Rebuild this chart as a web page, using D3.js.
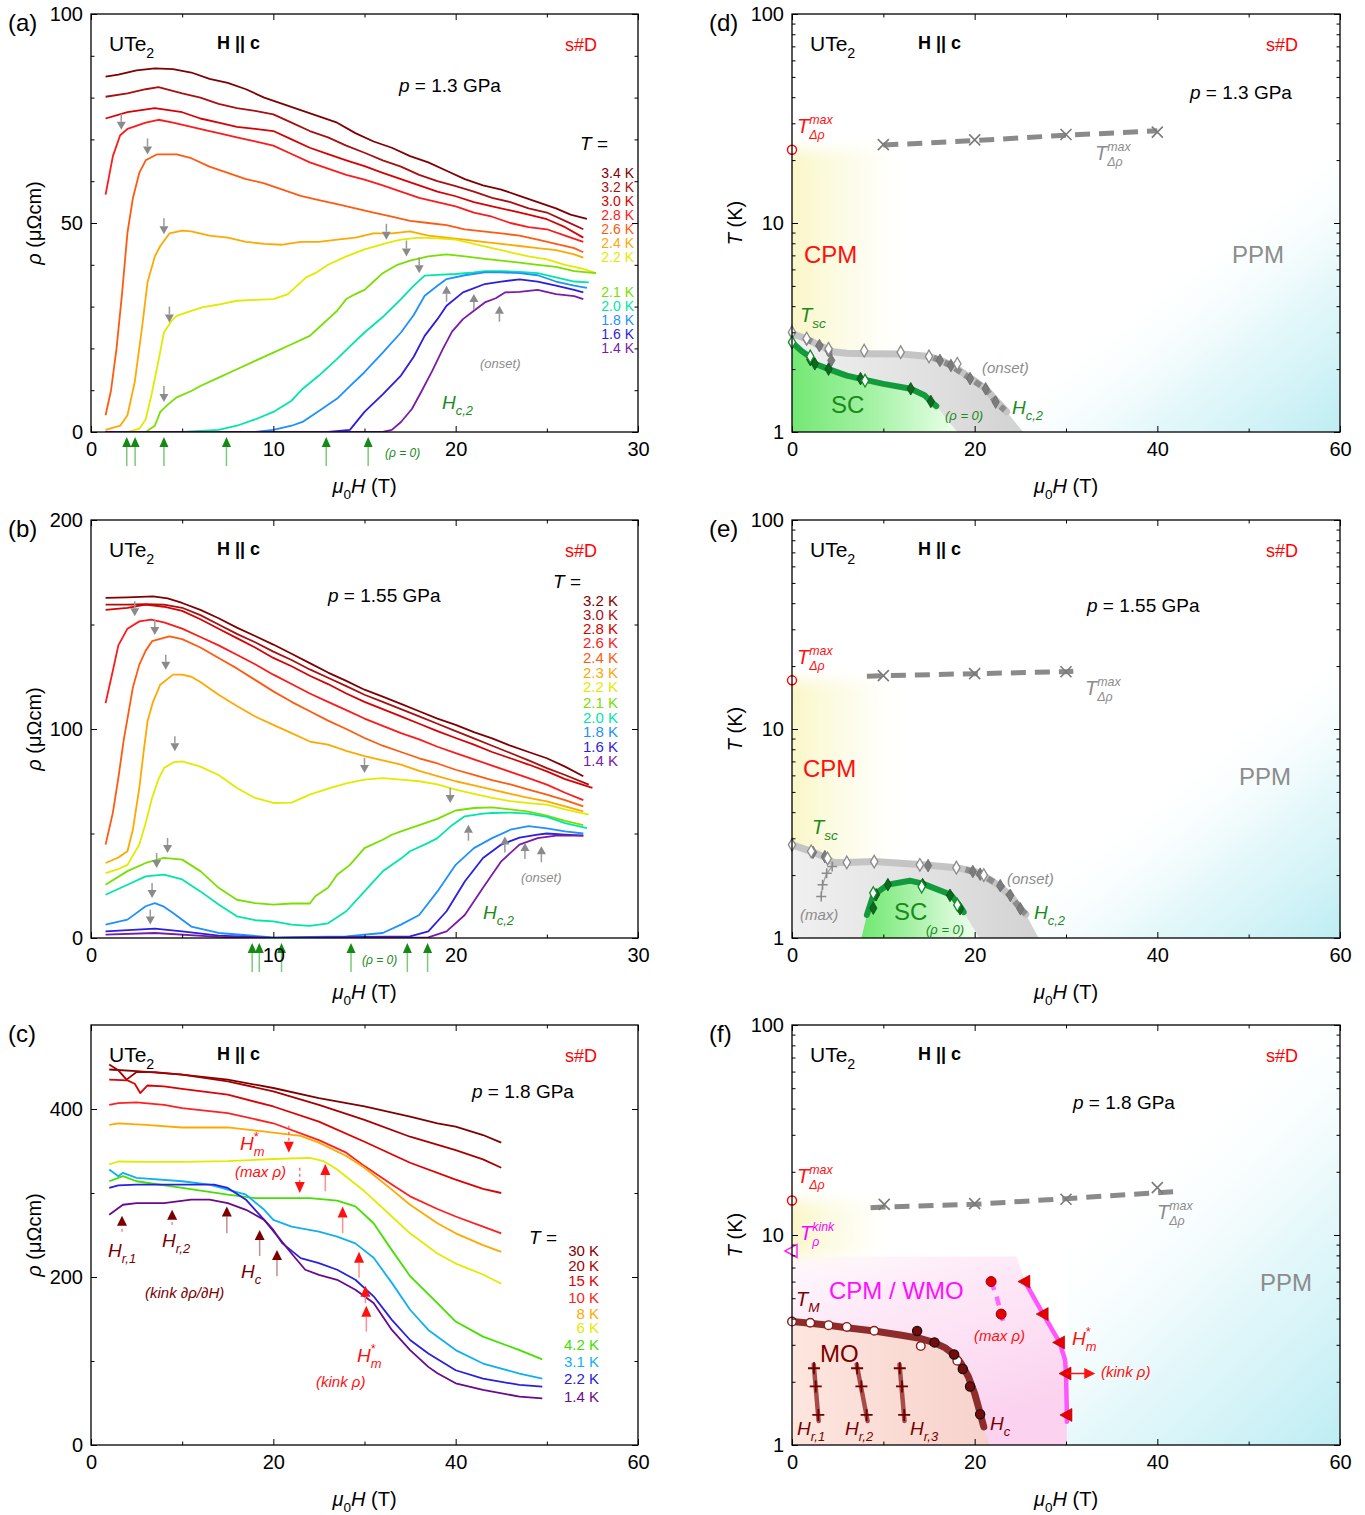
<!DOCTYPE html>
<html><head><meta charset="utf-8">
<script src="https://cdn.jsdelivr.net/npm/d3@7"></script>
<style>
body{margin:0;background:#fff;}
svg{font-family:"Liberation Sans",Arial,sans-serif;}
svg text{white-space:pre;}
.tk text{font-size:20px;font-family:"Liberation Sans",Arial,sans-serif;fill:#000;}
.tk line{stroke:#000;stroke-width:1;}
.tk path.domain{display:none;}
</style></head><body>
<svg id="fig" width="1365" height="1515"></svg>
<script>
// ================= DATA =================
// ---- panel (a): p = 1.3 GPa, rho (µΩcm) vs µ0H (T)
const aTemps = ["3.4 K","3.2 K","3.0 K","2.8 K","2.6 K","2.4 K","2.2 K","2.1 K","2.0 K","1.8 K","1.6 K","1.4 K"];
const a34 = [[0.8,85],[1.5,85.5],[2.5,86.5],[3.5,87],[4.5,86.8],[5.5,86],[6.5,84.5],[7.5,83.5],[8.5,82],[9.5,80],[10.5,78.5],[11.5,77],[12.5,75.5],[13.5,74],[14.5,71.5],[15.5,69.5],[16.5,68],[17.5,66],[18.5,64.5],[19.5,62.5],[20.5,60.5],[21.5,59],[22.5,58],[23.5,56.5],[24.5,55],[25.5,53.5],[26.3,52],[27.2,51]];
const a32 = [[0.8,80.2],[2,81],[3,82],[3.7,82.5],[5,81],[6,80],[7,78.5],[8,77.5],[9,76.8],[10,76],[11,74],[12,72],[13,70.5],[14,68.5],[15,66.8],[16,65],[17,63.5],[18,61.5],[19,60],[20,58.8],[21,57.5],[22,56],[23,55],[24,53.5],[25,52.5],[26,50.5],[27,48.5]];
const a30 = [[0.8,75],[2,76.5],[3.5,77.5],[5,76.5],[6,75],[7,74],[8,73],[9,72.5],[10,72],[11,70],[12,68],[13,66.5],[14,65],[15,63.6],[16,62],[17,60.5],[18,59],[19,57.5],[20,56.4],[21,55],[22,54],[23,53],[24,52],[25,50.9],[26,49],[27,46.5]];
const a28 = [[0.8,56.8],[1.2,66],[1.6,71],[2,72.5],[3,74],[3.7,74.7],[4.5,74],[5.5,73],[6.5,72],[7,71.5],[8,70.5],[9,69.5],[10,68.5],[11,66.5],[12,64.5],[13,63],[14,61.5],[15,60.4],[16,59],[17,57.5],[18,56],[19,55],[20,54],[21,52.5],[22,51.5],[23,50],[24,49],[25,48.5],[26,47],[27,45.5]];
const a26 = [[0.8,4],[1.1,10],[1.4,20],[1.7,33],[2,47.7],[2.3,56],[2.65,62],[3,65],[3.6,66.4],[4.7,66.4],[5.5,65.5],[6.5,63.5],[7.5,62],[8.5,60.5],[9.5,59.5],[10.5,58],[11.5,56.5],[12.5,55.5],[13.5,54.5],[14.5,53.5],[15.5,52.5],[16.5,51.5],[17.5,50.5],[18.5,50],[19.5,49.5],[20.5,48.5],[21.5,48],[22.5,47.5],[23.5,47],[24.5,46],[25.5,45],[26.5,44],[27,43]];
const a24 = [[0.8,0.5],[1.6,1.5],[2,4],[2.4,12],[2.8,25],[3.1,35.8],[3.5,42],[3.8,44.5],[4.3,47.5],[5,48.2],[5.5,48],[6.5,47],[7.5,46.5],[8.5,45.5],[9.5,45],[10.5,44.8],[11.5,45.5],[12.5,45.5],[13.5,46],[14.5,46.5],[15.5,47.5],[16.5,47.5],[17.5,48],[18.5,47],[19.5,46.5],[20.5,46],[21.5,45.5],[22.5,45],[23.5,44.5],[24.5,44],[25.5,43.5],[26.5,42.5],[27,41.7]];
const a22 = [[0.8,0],[2,0],[2.65,0.8],[3,3],[3.35,9.5],[3.7,17],[4,23.8],[4.4,26.5],[4.7,27.8],[5.5,29],[6.1,29.8],[7,30.5],[8,31.4],[9,31.6],[10,31.8],[10.8,33],[11.2,34.6],[11.8,37],[12.3,38],[13,40],[14,42],[15,43.7],[16.3,45.3],[17,46],[18,46.5],[19,46.3],[20,46],[21,45],[22,44],[23,43],[24,42],[25,41.3],[26,40],[27,39],[27.7,38]];
const a21 = [[0.8,0],[3,0],[3.5,1.5],[3.8,4.8],[4.2,6.5],[4.7,8.3],[5.5,9.8],[6,11],[7,13],[8,15],[9,17],[10,19],[11,21],[12,23],[12.5,25],[13,27],[13.5,29],[14,31.8],[14.5,33],[15,34],[15.5,36],[16,38],[16.8,40],[17.5,41],[18.5,42],[19.5,42.5],[20.5,42],[21.5,41.5],[22.5,41],[23.5,40.5],[24.5,40],[25.5,39.5],[26.5,38.5],[27.7,38]];
const a20 = [[0.8,0],[5,0],[7,0.5],[8,1.5],[9,3],[10,4.8],[11,7.5],[11.6,10.3],[12.5,13.5],[13.5,17.5],[14.2,20.5],[15,23.8],[16,27.5],[17,31.8],[17.7,35],[18.3,37.4],[19,37.6],[20,37.8],[21,38.2],[21.6,38.5],[22.5,38.5],[23.5,38.3],[24.5,38],[25.5,37],[26.5,36],[27.3,35.8]];
const a18 = [[0.8,0],[9,0],[10,0.5],[11,1.5],[11.6,2.4],[12.5,5],[13.5,8],[14.2,11],[15,14.3],[16,19],[17,23.8],[17.7,28],[18.3,32.6],[19,35],[19.5,36.6],[20.5,37.5],[21.6,38.2],[22.5,38.2],[23.5,38],[24.5,37.5],[25.5,36],[26.5,35],[27.2,34.5]];
const a16 = [[0.8,0],[13,0],[14.2,0.5],[15,4.8],[16,9],[17,13.5],[17.7,18],[18.3,23],[19,27],[19.5,30.2],[20.4,33.4],[21.6,35.4],[22.5,36],[23.5,36.5],[24.5,36],[25.5,35],[26.5,34],[27,33.4]];
const a14 = [[0.8,0],[16,0],[16.5,0.5],[17,2.4],[17.6,5.5],[18.1,9.5],[18.7,14.5],[19.3,19.9],[19.8,24],[20.4,27],[21,29],[21.6,31],[22.2,32],[22.7,33.4],[23.5,33.5],[24.5,34],[25.5,33],[26.5,32.5],[27,31.8]];
const aDownArrows = [[1.66,72.3],[3.1,66.4],[4.0,47.3],[4.3,26.2],[4.0,7.2],[16.2,46],[17.3,42],[18.0,38]];
const aUpArrows = [[19.5,35],[21.0,33],[22.4,30.2]];
const aRho0 = [1.96,2.42,4.0,7.43,12.9,15.2];

// ---- panel (b): p = 1.55 GPa
const bTemps = ["3.2 K","3.0 K","2.8 K","2.6 K","2.4 K","2.3 K","2.2 K","2.1 K","2.0 K","1.8 K","1.6 K","1.4 K"];
const b32 = [[0.8,162.7],[2,163],[3.4,163.5],[4.2,162.5],[5,160.3],[6,157],[7,153],[8,148.5],[9,144.5],[10,140.4],[11,136],[12,131.5],[13,127],[14,123],[15,118.8],[16,115.5],[17,112],[18,108.5],[19,105],[20,102],[21,98.5],[22,95.5],[23,92],[24,89],[25,86],[26,82],[27,77.4]];
const b30 = [[0.8,159.5],[2,159.5],[3,159.7],[4,159.5],[5,158],[6,154.5],[7,150],[8,145.5],[9,141.5],[10,137],[11,133],[12,128.5],[13,124.5],[14,120.5],[15,116.4],[16,113],[17,109.5],[18,106],[19,102.5],[20,99],[21,95.5],[22,92],[23,88.5],[24,85],[25,81.3],[26,78],[27.3,73.4]];
const b28 = [[0.8,157],[2,158],[3,159.5],[4,158.5],[5,156.5],[6,152.5],[7,148],[8,143.5],[9,139],[10,134],[11,130],[12,125.5],[13,121.5],[14,117],[15,113],[16,109.5],[17,106],[18,102.5],[19,99],[20,95.7],[21,92.5],[22,89],[23,86],[24,83],[25,79.7],[26,76],[27.5,71.8]];
const b26 = [[0.8,112.4],[1.2,128],[1.5,140],[2,148],[2.65,151.5],[3.3,152.3],[4,151],[5,148],[6,144],[7,140],[8,135.5],[9,131],[10,126],[11,121.5],[12,117],[13,113],[14,109],[15,105],[16,101.5],[17,98],[18,95],[19,91.5],[20,88.5],[21,85.5],[22,82.5],[23,79.5],[24,76.5],[25,73.4],[26,69.5],[27,66]];
const b24 = [[0.8,44.7],[1.2,60],[1.5,76.6],[1.8,95],[2,105],[2.3,120],[2.65,130.8],[3,137.5],[3.35,142],[4.3,144.3],[5,143],[6,139],[7,134],[8,129],[9,123.5],[10,118],[11,113],[12,108.5],[13,104],[14,100],[15,95.7],[16,92],[17,89],[18,86],[19,83.5],[20,80.5],[21,78],[22,75.5],[23,73.5],[24,71],[25,68.6],[26,66],[27,63]];
const b23 = [[0.8,35.9],[1.5,38.5],[2,41.5],[2.3,52],[2.65,71.8],[2.9,90],[3.1,103.7],[3.4,113],[3.8,121.2],[4.5,126],[5,126],[5.5,125],[6,122.5],[7,116.4],[8,111],[9,106],[10,102],[11,98],[12,94],[13,92.5],[14,89.5],[15,87],[16,85],[17,83],[18,80],[19,77.5],[20,75],[21,73],[22,71],[23,69],[24,67],[25,65.4],[26,63],[27,60.6]];
const b22 = [[0.8,31],[1.5,33],[2,35],[2.65,44.7],[3,55],[3.35,67],[3.7,76],[4,81.3],[4.5,84],[5,84.5],[6,82],[7,78],[8,71.8],[9,67],[10,64.6],[11,64.8],[12,68.6],[13,71.5],[14,74],[15,75.8],[16,76.5],[17,75.8],[18,75],[19,73.5],[20,71],[21,69],[22,67],[23,65.5],[24,64.5],[25,63.8],[26,61.5],[27.3,59]];
const b21 = [[0.8,25.5],[2,32],[3,35.9],[4,38.3],[5,37.5],[6,32],[7,24],[8,18.3],[9,16.7],[10,16],[11,16.5],[12,16.5],[12.3,20],[13,24],[13.5,30.3],[14.2,35],[15,43],[16,47],[16.5,49.4],[17,51],[18,54],[19,57],[19.5,59],[20,61],[21,62.2],[22,62.5],[23,61.5],[24,60.5],[25,58.5],[26,56],[27,54]];
const b20 = [[0.8,20.7],[2,25.5],[3,29.5],[4,30.3],[5,28],[6,22.3],[7,16],[8,10.4],[9,8.5],[10,8],[11,6.4],[12,5.8],[13,7],[14,12.8],[15,22.3],[16,31.9],[17,38],[17.5,41.5],[18.5,45.5],[19,47.8],[19.8,54],[20.5,58.2],[21.5,59.5],[22,59.8],[23,60],[24,59.5],[25,58],[26,55],[27.2,52.6]];
const b18 = [[0.8,6.4],[2,8.8],[3,15.2],[3.5,16.7],[4,15],[4.5,12],[5.5,5.5],[7,2.4],[10,0.3],[14,0.8],[16,2.4],[17,6.4],[18,11],[19,22.3],[20,35],[21,43],[22,47.8],[23,51.8],[24,53.5],[25,52.5],[26,51],[27,50]];
const b16 = [[0.8,3.2],[3.5,4.5],[5,3.2],[7,1.1],[10,0],[17.5,0.8],[18.5,3.2],[19.5,12.8],[20.5,27],[21.5,38.3],[22.5,44.7],[23.5,48],[24.5,49.5],[25,50],[26,49.5],[27,49]];
const b14 = [[0.8,1.6],[3.5,2.4],[7,0.5],[10,0],[18.5,0.3],[19.5,3.2],[20.5,11],[21.5,24],[22.5,36.7],[23.5,44.7],[24.5,47.8],[25.5,49],[27,49]];
const bDownArrows = [[2.4,154],[3.5,145],[4.1,128.4],[4.6,89.3],[15.0,79],[19.7,64.6],[4.2,40.7],[3.6,33.5],[3.35,19.1],[3.25,6.4]];
const bUpArrows = [[20.7,54.2],[22.7,48.6],[23.8,45.5],[24.7,43.9]];
const bRho0 = [8.84,9.23,10.45,14.26,17.35,18.46];

// ---- panel (c): p = 1.8 GPa
const cTemps = ["30 K","20 K","15 K","10 K","8 K","6 K","4.2 K","3.1 K","2.2 K","1.4 K"];
const c300 = [[2,447],[5,445],[10,441],[15,435],[20,425],[25,413],[30,403],[35,391],[38,383],[40,379],[43,369],[45,360]];
const c200 = [[2,453],[3,446],[3.9,435],[5,444],[7,444],[10,441],[15,433],[20,421],[25,405],[30,387],[35,367],[40,351],[43,340],[45,330]];
const c150 = [[2,435],[4,434],[4.8,430],[5.4,419],[6.2,428],[8,427],[10,424],[15,417],[20,403],[25,385],[30,361],[35,336],[40,316],[43,305],[45,300]];
const c100 = [[2,405],[3,407],[5,408],[8,405],[10,401],[15,395],[20,383],[25,363],[28,348],[30,332],[33,310],[35,296],[38,281],[40,272],[43,260],[45,252]];
const c80 = [[2,381],[3,383],[6,381],[10,378],[15,378],[20,372],[23,368],[25,360],[28,344],[30,330],[33,304],[35,286],[38,264],[40,252],[43,238],[45,230]];
const c60 = [[2,334],[3,337.5],[6,337],[10,337],[15,338],[20,340.5],[24,341.7],[25.5,338],[27,328],[30,302],[33,272],[35,252],[38,228],[40,216],[43,203],[45,192]];
const c42 = [[2,314],[3.5,320],[5,314],[10,306],[15,298],[18,294],[24,294],[27,291],[29,284],[31,264],[33,232],[35,201],[38,169],[40,147],[43,129],[47,113],[49.5,102]];
const c31 = [[2,328],[3,320],[3.5,324],[5,318],[10,314],[13,310],[15,304],[17,298],[19,280],[20,268],[22,260],[25,254],[27,248],[29,240],[31,223],[33,193],[35,161],[37,137],[40,113],[43,97],[47,85],[49.5,79]];
const c22 = [[2,306],[3,309],[5,310],[10,310],[13.5,310],[15,306],[17,292],[19,268],[20,256],[21,240],[23,222.5],[25,216.5],[27,208.6],[29,196.7],[31,177],[33,149],[35,125],[37,109],[40,89],[43,79],[47,71.5],[49.5,69.5]];
const c14 = [[2,274],[3.5,286],[5,288],[8,288],[11,292],[13,292],[15,288],[17,280],[19,268],[20.5,248],[22,228],[23.5,208.6],[25,202.6],[27,196.7],[29,184.8],[31,169],[33,137],[35,113],[37,93],[38,85.4],[40,73.5],[43,65.5],[47,57.6],[49.5,55.6]];
const cMaxArrows = [[21.7,348,380],[22.9,300,330]];      // [H, tip, tail]
const cKinkArrows = [[25.7,334.5,302],[27.6,284,252],[29.4,230,199],[30.1,189.5,169],[30.2,165.7,135]];
const cHrArrows = [[3.4,273,254],[8.9,280,262]];
const cHcArrows = [[14.9,284,252],[18.5,256,225],[20.4,232,201]];

// ---- panel (d): phase diagram p = 1.3 GPa
const dTmaxLine = [[10,23.6],[20,24.8],[30,26.3],[40,27.6]];
const dTmaxX = [[10,23.7],[20,25],[30,26.5],[40,27.2]];
const dTmaxZero = [[0,22.4]];
const dOnsetLine = [[0,2.95],[1.5,2.8],[3,2.6],[4.5,2.42],[6,2.38],[8,2.37],[12,2.36],[15,2.3],[16.5,2.18],[17.5,2.08],[19.5,1.82],[21.2,1.61],[22.3,1.42],[23.5,1.25]];
const dOnsetDashA = [[1.5,2.8],[3,2.59],[4,2.47],[4.3,2.2]];
const dOnsetDashB = [[15.5,2.27],[17.4,2.08],[19.5,1.8],[21.2,1.61],[22.3,1.39],[23.3,1.27]];
const dOnsetOpen = [[0,3.0],[1.6,2.8],[4,2.5],[7.9,2.45],[11.9,2.41],[15,2.3],[18.1,2.12]];
const dOnsetFilled = [[1.6,2.78],[3,2.59],[4,2.45],[4.3,2.2],[16.2,2.2],[17.4,2.08],[19.5,1.8],[21.2,1.61],[22.3,1.39]];
const dOnsetRegion = [[0,1],[0,2.95],[1.5,2.8],[3,2.6],[4.5,2.42],[6,2.38],[8,2.37],[12,2.36],[15,2.3],[16.5,2.18],[17.5,2.08],[19.5,1.82],[21.2,1.61],[22.3,1.42],[23.5,1.25],[25.3,1]];
const dRho0Line = [[0,2.69],[1,2.45],[2,2.28],[2.5,2.12],[4,2.0],[6,1.86],[7.9,1.78],[10,1.7],[13,1.61],[14.5,1.5],[15.2,1.4],[15.8,1.33]];
const dRho0Filled = [[2,2.22],[2.5,2.12],[4,2.0],[7.5,1.8],[13,1.61],[15.2,1.4]];
const dRho0Open = [[0,2.69],[2,2.3],[8,1.76]];
const dSCRegion = [[0,1],[0,2.69],[1,2.45],[2,2.28],[2.5,2.12],[4,2.0],[6,1.86],[7.9,1.78],[10,1.7],[13,1.61],[14.5,1.5],[15.2,1.4],[15.8,1.33],[18.1,1]];

// ---- panel (e): phase diagram p = 1.55 GPa
const eTmaxLine = [[8.2,17.9],[10,18],[20,18.4],[30,18.8],[30.8,18.9]];
const eTmaxX = [[10,18],[20,18.4],[30,18.8]];
const eTmaxZero = [[0,17.1]];
const eOnsetLine = [[0,2.79],[2.2,2.59],[3.8,2.41],[4.5,2.3],[6,2.3],[9,2.32],[14,2.25],[18,2.17],[20,2.08],[21,1.99],[22.5,1.8],[24,1.58],[25,1.38],[25.6,1.3]];
const eOnsetDash = [[19,2.13],[20.6,2.02],[22.8,1.78],[23.9,1.6],[25,1.38],[25.6,1.3]];
const eOnsetOpen = [[0,2.79],[2.1,2.6],[3.9,2.4],[6,2.3],[9,2.32],[14,2.24],[18,2.17],[21,2.0]];
const eOnsetFilled = [[2.3,2.57],[3.6,2.45],[14.9,2.22],[19.8,2.08],[20.6,2.02],[22.8,1.78],[23.9,1.6],[25,1.38]];
const eOnsetRegion = [[0,1],[0,2.79],[2.2,2.59],[3.8,2.41],[4.5,2.3],[6,2.3],[9,2.32],[14,2.25],[18,2.17],[20,2.08],[21,1.99],[22.5,1.8],[24,1.58],[25,1.38],[25.6,1.3],[27,1]];
const eMax = [[4.4,2.2],[3.8,2.04],[3.35,1.8],[3.2,1.58]];
const eMaxLine = [[4.5,2.3],[4.4,2.2],[3.8,2.04],[3.35,1.8],[3.2,1.58]];
const eSCLine = [[8.2,1.29],[8.9,1.6],[10.5,1.8],[12.9,1.88],[14.3,1.82],[17.4,1.61],[18.3,1.44],[18.8,1.33]];
const eSCFilled = [[8.9,1.39],[9.2,1.61],[10.5,1.8],[14.3,1.8],[17.3,1.6],[18.4,1.38]];
const eSCOpen = [[8.9,1.64],[14.2,1.76],[18.1,1.44]];
const eSCRegion = [[7.6,1],[8.2,1.29],[8.9,1.6],[10.5,1.8],[12.9,1.88],[14.3,1.82],[17.4,1.61],[18.3,1.44],[18.8,1.33],[20.5,1]];

// ---- panel (f): phase diagram p = 1.8 GPa
const fTmaxLine = [[8.6,13.5],[10,13.6],[20,14],[30,14.9],[41.9,16.1]];
const fTmaxX = [[10.1,14],[20,14.1],[30,14.8],[40,16.8]];
const fTmaxZero = [[0,14.6]];
const fTkinkZero = [[0,8.4]];
const fMOLine = [[0,3.87],[2,3.8],[4,3.72],[6,3.62],[9,3.49],[12,3.33],[14,3.22],[15.5,3.08],[16.8,2.9],[17.8,2.68],[18.5,2.45],[19.3,2.12],[20,1.76],[20.5,1.47],[21,1.22]];
const fMOOpen = [[0,3.87],[2,3.82],[4,3.72],[6,3.65],[9,3.5],[14.1,2.96],[18.1,2.52]];
const fMOFilled = [[13.7,3.49],[15.6,3.08],[17.75,2.7],[18.7,2.3],[19.5,1.9],[20.6,1.4]];
const fMORegion = [[0,1],[0,3.87],[2,3.8],[4,3.72],[6,3.62],[9,3.49],[12,3.33],[14,3.22],[15.5,3.08],[16.8,2.9],[17.8,2.68],[18.5,2.45],[19.3,2.12],[20,1.76],[20.5,1.47],[21,1.22],[21.6,1]];
const fHr1 = [[2.41,2.32],[2.6,1.9],[2.88,1.39]];
const fHr2 = [[7.13,2.32],[7.6,1.9],[8.17,1.39]];
const fHr3 = [[11.8,2.32],[12.04,1.9],[12.28,1.39]];
const fHr1Line = [[2.38,2.42],[2.92,1.3]];
const fHr2Line = [[7.08,2.42],[8.28,1.3]];
const fHr3Line = [[11.77,2.42],[12.32,1.3]];
const fHmLine = [[25.5,6.0],[27.5,4.2],[29.3,3.08],[29.9,2.54],[30.0,2.19],[30.1,1.39],[30.1,1.29]];
const fHmTri = [[25.5,6.0],[27.5,4.2],[29.3,3.08],[30.0,2.19],[30.1,1.39]];
const fHmKink = [[30.0,33.2,2.19]];
const fMaxLine = [[21.8,6.0],[22.4,5.1],[22.9,4.2],[23.1,3.9]];
const fMaxDots = [[21.8,6.0],[22.9,4.2]];
const fWMORegion = [[0,1],[0,7.9],[24.6,7.9],[25.5,6.0],[27.5,4.2],[29.3,3.08],[29.9,2.54],[30.0,2.19],[30.1,1.39],[30.1,1]];

// ================= DRAWING =================
const svg = d3.select("#fig");
const defs = svg.append("defs");
const FONT = '"Liberation Sans",Arial,sans-serif';
defs.append("filter").attr("id", "soft").attr("x", "-20%").attr("y", "-20%").attr("width", "140%").attr("height", "140%")
  .append("feGaussianBlur").attr("stdDeviation", 7);

function grad(id, x1, y1, x2, y2, stops, user){
  const g = defs.append("linearGradient").attr("id", id)
    .attr("x1", x1).attr("y1", y1).attr("x2", x2).attr("y2", y2);
  if (user) g.attr("gradientUnits", "userSpaceOnUse");
  stops.forEach(s => g.append("stop").attr("offset", s[0]).attr("stop-color", s[1]).attr("stop-opacity", s[2] == null ? 1 : s[2]));
}

function rich(g, x, y, parts, o){
  const size = o.size || 18;
  const grp = g.append("g").attr("fill", o.color || "#000");
  let cx = 0, pend = 0;
  parts.forEach(p => {
    const t = p[0], f = p[1] || "";
    let fs = size, dy = 0;
    if (f.includes("_")) { fs = size * (o.subScale || 0.68); dy = size * 0.32; }
    if (f.includes("^")) { fs = size * (o.subScale || 0.68); dy = -size * 0.45; }
    const el = grp.append("text").attr("x", cx).attr("y", dy).attr("font-size", fs).attr("font-family", FONT).text(t);
    if (f.includes("i")) el.attr("font-style", "italic");
    if (f.includes("b")) el.attr("font-weight", "bold");
    const w = el.node().getComputedTextLength();
    if (f.includes("s")) pend = Math.max(pend, w);
    else { cx += Math.max(w, pend); pend = 0; }
  });
  cx += pend;
  let dx = 0;
  if (o.anchor === "middle") dx = -cx / 2;
  if (o.anchor === "end") dx = -cx;
  grp.attr("transform", `translate(${x + dx},${y})`);
  return grp;
}

function makePanel(box, xd, yd, ylog, ticks){
  const g = svg.append("g");
  const x = d3.scaleLinear().domain(xd).range([box.l, box.r]);
  const y = (ylog ? d3.scaleLog() : d3.scaleLinear()).domain(yd).range([box.b, box.t]);
  const id = "clip" + Math.round(box.l) + "_" + Math.round(box.t);
  defs.append("clipPath").attr("id", id).append("rect")
    .attr("x", box.l).attr("y", box.t).attr("width", box.r - box.l).attr("height", box.b - box.t);
  const plot = g.append("g").attr("clip-path", `url(#${id})`);
  const over = g.append("g");
  const fmt = d3.format("d");
  const ax = g.append("g").attr("class", "tk");
  ax.append("g").attr("transform", `translate(0,${box.b})`).call(d3.axisBottom(x).tickValues(ticks.xM).tickSize(-6).tickSizeOuter(0).tickPadding(10).tickFormat(fmt));
  ax.append("g").attr("transform", `translate(0,${box.b})`).call(d3.axisBottom(x).tickValues(ticks.xm).tickSize(-3.5).tickSizeOuter(0).tickFormat(""));
  ax.append("g").attr("transform", `translate(0,${box.t})`).call(d3.axisTop(x).tickValues(ticks.xM).tickSize(-6).tickSizeOuter(0).tickFormat(""));
  ax.append("g").attr("transform", `translate(0,${box.t})`).call(d3.axisTop(x).tickValues(ticks.xm).tickSize(-3.5).tickSizeOuter(0).tickFormat(""));
  ax.append("g").attr("transform", `translate(${box.l},0)`).call(d3.axisLeft(y).tickValues(ticks.yM).tickSize(-6).tickSizeOuter(0).tickPadding(8).tickFormat(fmt));
  ax.append("g").attr("transform", `translate(${box.l},0)`).call(d3.axisLeft(y).tickValues(ticks.ym).tickSize(-3.5).tickSizeOuter(0).tickFormat(""));
  ax.append("g").attr("transform", `translate(${box.r},0)`).call(d3.axisRight(y).tickValues(ticks.yM).tickSize(-6).tickSizeOuter(0).tickFormat(""));
  ax.append("g").attr("transform", `translate(${box.r},0)`).call(d3.axisRight(y).tickValues(ticks.ym).tickSize(-3.5).tickSizeOuter(0).tickFormat(""));
  ax.selectAll("g").attr("font-size", null).attr("font-family", null);
  ax.append("rect").attr("x", box.l).attr("y", box.t).attr("width", box.r - box.l).attr("height", box.b - box.t)
    .attr("fill", "none").attr("stroke", "#000").attr("stroke-width", 1.3);
  return {g, plot, over, ax, x, y, box};
}

function header(p, letter, press, px, py){
  const b = p.box;
  rich(p.over, b.l - 83, b.t + 17, [["(" + letter + ")"]], {size: 24});
  rich(p.over, b.l + 18, b.t + 37, [["UTe"], ["2", "_"]], {size: 21});
  rich(p.over, b.l + 126, b.t + 35, [["H || c", "b"]], {size: 18});
  rich(p.over, b.l + 474, b.t + 37, [["s#D"]], {size: 18, color: "#ff0000"});
  rich(p.over, px, py, [["p", "i"], [" = " + press + " GPa"]], {size: 19});
}
function xTitle(p){
  const b = p.box;
  rich(p.over, (b.l + b.r) / 2, b.b + 61, [["μ", "i"], ["0", "_"], ["H", "i"], [" (T)"]], {size: 20, anchor: "middle"});
}
function yTitleRho(p){
  const b = p.box;
  const gg = p.over.append("g").attr("transform", `translate(${b.l - 50},${(b.t + b.b) / 2}) rotate(-90)`);
  rich(gg, 0, 0, [["ρ", "i"], [" (μΩcm)"]], {size: 20, anchor: "middle"});
}
function yTitleT(p){
  const b = p.box;
  const gg = p.over.append("g").attr("transform", `translate(${b.l - 50},${(b.t + b.b) / 2}) rotate(-90)`);
  rich(gg, 0, 0, [["T", "i"], [" (K)"]], {size: 20, anchor: "middle"});
}

function lineGen(p, curve){ return d3.line().x(d => p.x(d[0])).y(d => p.y(d[1])).curve(curve || d3.curveLinear); }

function drawCurves(p, curves, colors){
  const lg = lineGen(p);
  p.plot.selectAll(null).data(curves).join("path")
    .attr("d", lg).attr("fill", "none").attr("stroke", (d, i) => colors[i])
    .attr("stroke-width", 1.8).attr("stroke-linejoin", "round");
}
function legend(p, temps, colors, xr, ys, tx, ty, fs){
  rich(p.over, tx, ty, [["T", "i"], [" ="]], {size: 19});
  temps.forEach((t, i) => rich(p.over, xr, ys[i], [[t]], {size: fs || 15, color: colors[i], anchor: "end"}));
}

// vertical arrow: tip at (xpx, ytip), tail at ytail (px)
function vArrow(g, xpx, ytip, ytail, head, shaft, o){
  o = o || {};
  const dir = ytail > ytip ? 1 : -1;
  const hl = o.hl || 9, hw = o.hw || 4.5;
  const baseY = ytip + dir * hl;
  g.append("line").attr("x1", xpx).attr("x2", xpx).attr("y1", ytail).attr("y2", baseY)
    .attr("stroke", shaft).attr("stroke-width", o.sw || 1.5).attr("stroke-dasharray", o.dash || null);
  g.append("path").attr("d", `M${xpx},${ytip}L${xpx - hw},${baseY}L${xpx + hw},${baseY}Z`).attr("fill", head);
}

const diamond = d3.symbol().type(d3.symbolDiamond).size(46);
function markers(p, data, path, fill, stroke, sw){
  p.over.selectAll(null).data(data).join("path")
    .attr("transform", d => `translate(${p.x(d[0])},${p.y(d[1])})`)
    .attr("d", path).attr("fill", fill).attr("stroke", stroke).attr("stroke-width", sw || 1.2);
}
function circles(p, data, r, fill, stroke, sw, layer){
  (layer || p.over).selectAll(null).data(data).join("circle")
    .attr("cx", d => p.x(d[0])).attr("cy", d => p.y(d[1])).attr("r", r)
    .attr("fill", fill).attr("stroke", stroke).attr("stroke-width", sw || 1.3);
}
function pathLine(layer, p, data, stroke, sw, dash, cap){
  layer.append("path").attr("d", lineGen(p)(data)).attr("fill", "none").attr("stroke", stroke)
    .attr("stroke-width", sw).attr("stroke-dasharray", dash || null).attr("stroke-linecap", cap || "butt").attr("stroke-linejoin", "round");
}
function area(layer, p, data, fill){
  return layer.append("path").attr("d", lineGen(p)(data) + "Z").attr("fill", fill);
}

// ---------------- geometry ----------------
const LB = {l: 91, r: 638}, RB = {l: 792, r: 1340};
const rows = [{t: 14, b: 432}, {t: 520, b: 938}, {t: 1025, b: 1445}];
const box = (c, r) => ({l: c.l, r: c.r, t: r.t, b: r.b});

const tA = {xM: [0, 10, 20, 30], xm: [5, 15, 25], yM: [0, 50, 100], ym: [10, 20, 30, 40, 60, 70, 80, 90]};
const tB = {xM: [0, 10, 20, 30], xm: [5, 15, 25], yM: [0, 100, 200], ym: [50, 150]};
const tC = {xM: [0, 20, 40, 60], xm: [10, 30, 50], yM: [0, 200, 400], ym: [100, 300]};
const logMinor = [2,3,4,5,6,7,8,9,20,30,40,50,60,70,80,90];
const tP = {xM: [0, 20, 40, 60], xm: [10, 30, 50], yM: [1, 10, 100], ym: logMinor};

// ---------------- (a) ----------------
const aColors = ["#7f0000","#a81010","#d80000","#ff1a1a","#ff5a10","#ffa800","#e2ea00","#78e000","#00e6a8","#1e90ff","#2c1ee0","#7a1aa8"];
const pa = makePanel(box(LB, rows[0]), [0, 30], [0, 100], false, tA);
drawCurves(pa, [a34, a32, a30, a28, a26, a24, a22, a21, a20, a18, a16, a14], aColors);
aDownArrows.forEach(d => vArrow(pa.over, pa.x(d[0]), pa.y(d[1]), pa.y(d[1]) - 16, "#8a8a8a", "#9a9a9a", {hl: 8, hw: 4.5}));
aUpArrows.forEach(d => vArrow(pa.over, pa.x(d[0]), pa.y(d[1]), pa.y(d[1]) + 16, "#8a8a8a", "#9a9a9a", {hl: 8, hw: 4.5}));
aRho0.forEach(h => vArrow(pa.over, pa.x(h), 437, 466, "#138a13", "#7cc87c", {hl: 10, hw: 4.5}));
header(pa, "a", "1.3", 399, 92);
xTitle(pa); yTitleRho(pa);
legend(pa, aTemps, aColors, 634, [177.5,191.5,205.5,219.5,233.5,247.5,261.5,296.5,310.5,324.5,338.5,352.5], 580, 150, 14);
rich(pa.over, 480, 368, [["(onset)", "i"]], {size: 13, color: "#8c8c8c"});
rich(pa.over, 442, 409, [["H", "i"], ["c,2", "_i"]], {size: 19, color: "#1a8a1a"});
rich(pa.over, 385, 457, [["(", "i"], ["ρ", "i"], [" = 0)", "i"]], {size: 12, color: "#1a8a1a"});

// ---------------- (b) ----------------
const bColors = ["#7f0000","#a81010","#d80000","#ff1a1a","#ff5a10","#ffa800","#e2ea00","#78e000","#00e6a8","#1e90ff","#2c1ee0","#7a1aa8"];
const pb = makePanel(box(LB, rows[1]), [0, 30], [0, 200], false, tB);
drawCurves(pb, [b32, b30, b28, b26, b24, b23, b22, b21, b20, b18, b16, b14], bColors);
bDownArrows.forEach(d => vArrow(pb.over, pb.x(d[0]), pb.y(d[1]), pb.y(d[1]) - 15, "#8a8a8a", "#9a9a9a", {hl: 8, hw: 4.5}));
bUpArrows.forEach(d => vArrow(pb.over, pb.x(d[0]), pb.y(d[1]), pb.y(d[1]) + 16, "#8a8a8a", "#9a9a9a", {hl: 8, hw: 4.5}));
bRho0.forEach(h => vArrow(pb.over, pb.x(h), 943, 972, "#138a13", "#7cc87c", {hl: 10, hw: 4.5}));
header(pb, "b", "1.55", 328, 602);
xTitle(pb); yTitleRho(pb);
legend(pb, bTemps, bColors, 618, [605.7,620,634,648.4,663.4,678,692.4,708.4,723,737.4,751.7,766.4], 553, 588);
rich(pb.over, 521, 882, [["(onset)", "i"]], {size: 13, color: "#8c8c8c"});
rich(pb.over, 483, 919, [["H", "i"], ["c,2", "_i"]], {size: 19, color: "#1a8a1a"});
rich(pb.over, 362, 964, [["(", "i"], ["ρ", "i"], [" = 0)", "i"]], {size: 12, color: "#1a8a1a"});

// ---------------- (c) ----------------
const cColors = ["#7f0000","#a80000","#e00000","#ff2020","#ffa800","#e2ea00","#44e000","#10b0f0","#2820e0","#6a0a8a"];
const pc = makePanel(box(LB, rows[2]), [0, 60], [0, 500], false, tC);
drawCurves(pc, [c300, c200, c150, c100, c80, c60, c42, c31, c22, c14], cColors);
cMaxArrows.forEach(d => vArrow(pc.over, pc.x(d[0]), pc.y(d[1]), pc.y(d[2]), "#ff1010", "#ff5050", {hl: 11, hw: 5, dash: "3,3", sw: 1.2}));
cKinkArrows.forEach(d => vArrow(pc.over, pc.x(d[0]), pc.y(d[1]), pc.y(d[2]), "#ff1010", "#ff9090", {hl: 11, hw: 5}));
cHrArrows.forEach(d => vArrow(pc.over, pc.x(d[0]), pc.y(d[1]), pc.y(d[2]), "#7a0000", "#c08080", {hl: 10, hw: 5, dash: "3,3", sw: 1.2}));
cHcArrows.forEach(d => vArrow(pc.over, pc.x(d[0]), pc.y(d[1]), pc.y(d[2]), "#7a0000", "#c09090", {hl: 10, hw: 5}));
header(pc, "c", "1.8", 472, 1098);
xTitle(pc); yTitleRho(pc);
legend(pc, cTemps, cColors, 599, [1256.4,1271.4,1285.7,1302.7,1318.7,1332.7,1349.7,1366.7,1383.7,1401.7], 529, 1244);
rich(pc.over, 240, 1150, [["H", "i"], ["*", "^s"], ["m", "_i"]], {size: 19, color: "#ff1010"});
rich(pc.over, 235, 1177, [["(max ", "i"], ["ρ", "i"], [")", "i"]], {size: 15, color: "#ff1010"});
rich(pc.over, 108, 1257, [["H", "i"], ["r,1", "_i"]], {size: 19, color: "#7a0000"});
rich(pc.over, 162, 1247, [["H", "i"], ["r,2", "_i"]], {size: 19, color: "#7a0000"});
rich(pc.over, 241, 1278, [["H", "i"], ["c", "_i"]], {size: 19, color: "#7a0000"});
rich(pc.over, 145, 1298, [["(kink ∂", "i"], ["ρ", "i"], ["/∂", "i"], ["H", "i"], [")", "i"]], {size: 15, color: "#7a0000"});
rich(pc.over, 357, 1362, [["H", "i"], ["*", "^s"], ["m", "_i"]], {size: 19, color: "#ff1010"});
rich(pc.over, 316, 1387, [["(kink ", "i"], ["ρ", "i"], [")", "i"]], {size: 15, color: "#ff1010"});

// ---------------- phase diagram helpers ----------------
function bgCyan(p, id, fx, fy, xFrom){
  const b = p.box;
  grad(id, b.r, b.b, b.r - fx * (b.r - b.l), b.b - fy * (b.b - b.t),
    [[0, "#bdedf3", 1], [0.5, "#def6f9", 0.8], [1, "#ffffff", 0]], true);
  const x0 = xFrom == null ? b.l : p.x(xFrom);
  p.plot.append("rect").attr("x", x0).attr("y", b.t).attr("width", b.r - x0).attr("height", b.b - b.t).attr("fill", `url(#${id})`);
}
function yellowBlock(p, hR, tTop, tBot){
  p.plot.append("rect").attr("x", p.x(0) - 20).attr("y", p.y(tTop)).attr("width", p.x(hR) - p.x(0) + 20).attr("height", p.y(tBot) - p.y(tTop) + 20)
    .attr("rx", 18).attr("fill", "url(#gYellow)").attr("filter", "url(#soft)");
}
function tmaxBlock(p, line, xs, zero){
  pathLine(p.over, p, line, "#8a8a8a", 5, "15,9");
  p.over.selectAll(null).data(xs).join("path")
    .attr("transform", d => `translate(${p.x(d[0])},${p.y(d[1])})`)
    .attr("d", "M-5.5,-5.5L5.5,5.5M-5.5,5.5L5.5,-5.5").attr("stroke", "#7a7a7a").attr("stroke-width", 1.6).attr("fill", "none");
  circles(p, zero, 4.5, "#fff", "#ff0000", 1.4);
}
function tLabel(p, x, y, sup, sub, color){
  rich(p.over, x, y, [["T", "i"], [sup, "^is"], [sub, "_i"]], {size: 20, color: color, subScale: 0.62});
}

grad("gYellow", 0, 0, 1, 0, [[0, "#f8f4b8", 0.95], [0.25, "#faf7c8", 0.85], [0.65, "#fcfbe2", 0.55], [1, "#ffffff", 0]]);
grad("gGray", 0, 0, 1, 0, [[0, "#f0f0f0"], [0.6, "#e0e0e0"], [1, "#d2d2d2"]]);
grad("gGreen", 0, 0, 1, 0, [[0, "#74e874"], [0.5, "#a6f2a6"], [1, "#ecffec"]]);
grad("gGreenE", 0, 0, 1, 0, [[0, "#6fe86f"], [0.5, "#b0f3b0"], [1, "#f2fff2"]]);
grad("gPink", 0, 0, 0.5, 1, [[0, "#fde8f7", 0.25], [0.35, "#fde5f6", 0.85], [1, "#fbd2ef", 1]]);
grad("gMO", 0, 0, 1, 0, [[0, "#fde6de"], [1, "#f7d2cc"]]);

// ---------------- (d) ----------------
const pd = makePanel(box(RB, rows[0]), [0, 60], [1, 100], true, tP);
bgCyan(pd, "gCyanD", 0.28, 0.46);
yellowBlock(pd, 13.3, 22.4, 1);
area(pd.plot, pd, dOnsetRegion, "url(#gGray)");
area(pd.plot, pd, dSCRegion, "url(#gGreen)");
pathLine(pd.over, pd, dOnsetLine, "#c4c4c4", 7, null, "round");
pathLine(pd.over, pd, dOnsetDashA, "#8c8c8c", 6, "7,5");
pathLine(pd.over, pd, dOnsetDashB, "#8c8c8c", 6, "7,5");
pathLine(pd.over, pd, dRho0Line, "#129a3c", 6, null, "round");
markers(pd, dOnsetFilled, diamond, "#7c7c7c", "#6a6a6a", 0.8);
markers(pd, dOnsetOpen, diamond, "#ffffff", "#8a8a8a", 1.3);
markers(pd, dRho0Filled, diamond, "#0b6a1c", "#064a12", 0.8);
markers(pd, dRho0Open, diamond, "#ffffff", "#128a2a", 1.3);
tmaxBlock(pd, dTmaxLine, dTmaxX, dTmaxZero);
header(pd, "d", "1.3", 1190, 99);
xTitle(pd); yTitleT(pd);
tLabel(pd, 797, 133, "max", "Δρ", "#ff1010");
tLabel(pd, 1095, 160, "max", "Δρ", "#8c8c8c");
rich(pd.over, 804, 263, [["CPM"]], {size: 24, color: "#ff1010"});
rich(pd.over, 1232, 263, [["PPM"]], {size: 24, color: "#8c8c8c"});
rich(pd.over, 800, 322, [["T", "i"], ["sc", "_i"]], {size: 20, color: "#1a8a1a"});
rich(pd.over, 831, 413, [["SC"]], {size: 24, color: "#1a8a1a"});
rich(pd.over, 982, 373, [["(onset)", "i"]], {size: 15, color: "#8c8c8c"});
rich(pd.over, 945, 420, [["(", "i"], ["ρ", "i"], [" = 0)", "i"]], {size: 13, color: "#1a8a1a"});
rich(pd.over, 1012, 414, [["H", "i"], ["c,2", "_i"]], {size: 19, color: "#1a8a1a"});

// ---------------- (e) ----------------
const pe = makePanel(box(RB, rows[1]), [0, 60], [1, 100], true, tP);
bgCyan(pe, "gCyanE", 0.28, 0.46);
yellowBlock(pe, 12.7, 17.1, 1);
area(pe.plot, pe, eOnsetRegion, "url(#gGray)");
area(pe.plot, pe, eSCRegion, "url(#gGreenE)");
pathLine(pe.over, pe, eOnsetLine, "#c4c4c4", 7, null, "round");
pathLine(pe.over, pe, eOnsetDash, "#8c8c8c", 6, "7,5");
pathLine(pe.over, pe, eMaxLine, "#9a9a9a", 1.2);
pe.over.selectAll(null).data(eMax).join("path")
  .attr("transform", d => `translate(${pe.x(d[0])},${pe.y(d[1])})`)
  .attr("d", "M-5,0L5,0M0,-5L0,5").attr("stroke", "#8a8a8a").attr("stroke-width", 1.5);
pathLine(pe.over, pe, eSCLine, "#129a3c", 6, null, "round");
markers(pe, eOnsetFilled, diamond, "#7c7c7c", "#6a6a6a", 0.8);
markers(pe, eOnsetOpen, diamond, "#ffffff", "#8a8a8a", 1.3);
markers(pe, eSCFilled, diamond, "#0b6a1c", "#064a12", 0.8);
markers(pe, eSCOpen, diamond, "#ffffff", "#128a2a", 1.3);
tmaxBlock(pe, eTmaxLine, eTmaxX, eTmaxZero);
header(pe, "e", "1.55", 1087, 612);
xTitle(pe); yTitleT(pe);
tLabel(pe, 797, 664, "max", "Δρ", "#ff1010");
tLabel(pe, 1085, 695, "max", "Δρ", "#8c8c8c");
rich(pe.over, 803, 777, [["CPM"]], {size: 24, color: "#ff1010"});
rich(pe.over, 1239, 785, [["PPM"]], {size: 24, color: "#8c8c8c"});
rich(pe.over, 812, 834, [["T", "i"], ["sc", "_i"]], {size: 20, color: "#1a8a1a"});
rich(pe.over, 800, 920, [["(max)", "i"]], {size: 15, color: "#8c8c8c"});
rich(pe.over, 894, 920, [["SC"]], {size: 24, color: "#1a8a1a"});
rich(pe.over, 926, 934, [["(", "i"], ["ρ", "i"], [" = 0)", "i"]], {size: 13, color: "#1a8a1a"});
rich(pe.over, 1007, 884, [["(onset)", "i"]], {size: 15, color: "#8c8c8c"});
rich(pe.over, 1034, 919, [["H", "i"], ["c,2", "_i"]], {size: 19, color: "#1a8a1a"});

// ---------------- (f) ----------------
const pf = makePanel(box(RB, rows[2]), [0, 60], [1, 100], true, tP);
area(pf.plot, pf, fWMORegion, "url(#gPink)");
bgCyan(pf, "gCyanF", 0.45, 0.62, 30.1);
pf.plot.append("rect").attr("x", pf.x(0) - 20).attr("y", pf.y(14.6)).attr("width", pf.x(11.6) - pf.x(0) + 20).attr("height", pf.y(7.9) - pf.y(14.6))
  .attr("rx", 16).attr("fill", "url(#gYellow)").attr("filter", "url(#soft)");
area(pf.plot, pf, fMORegion, "url(#gMO)");
pathLine(pf.over, pf, fMOLine, "#8e2c2c", 7, null, "round");
[[fHr1Line, fHr1], [fHr2Line, fHr2], [fHr3Line, fHr3]].forEach(([ln, pts]) => {
  pathLine(pf.over, pf, ln, "#a84a4a", 4.5, null, "round");
  pf.over.selectAll(null).data(pts).join("path")
    .attr("transform", d => `translate(${pf.x(d[0])},${pf.y(d[1])})`)
    .attr("d", "M-6,0L6,0M0,-6L0,6").attr("stroke", "#6e0000").attr("stroke-width", 1.8);
});
circles(pf, fMOOpen, 4.3, "#ffffff", "#8e1a1a", 1.4);
circles(pf, fMOFilled, 4.6, "#7a0a0a", "#111", 1.3);
pathLine(pf.over, pf, fHmLine, "#ff55ff", 4.5, null, "round");
pathLine(pf.over, pf, fMaxLine, "#ff66ff", 4.5, "9,7");
const triL = "M-7,0L5,-6.5L5,6.5Z";
pf.over.selectAll(null).data(fHmTri).join("path")
  .attr("transform", d => `translate(${pf.x(d[0])},${pf.y(d[1])})`).attr("d", triL).attr("fill", "#e60000").attr("stroke", "#a00000").attr("stroke-width", 0.6);
fHmKink.forEach(d => {
  const yy = pf.y(d[2]), x0 = pf.x(d[0]), x1 = pf.x(d[1]);
  pf.over.append("line").attr("x1", x0).attr("x2", x1 - 9).attr("y1", yy).attr("y2", yy).attr("stroke", "#ff1010").attr("stroke-width", 1.5);
  pf.over.append("path").attr("d", `M${x1},${yy}L${x1 - 11},${yy - 5.5}L${x1 - 11},${yy + 5.5}Z`).attr("fill", "#ff1010");
});
circles(pf, fMaxDots, 5, "#e60000", "#a00000", 1);
pf.over.selectAll(null).data(fTkinkZero).join("path")
  .attr("transform", d => `translate(${pf.x(d[0])},${pf.y(d[1])})`).attr("d", triL).attr("fill", "#fff").attr("stroke", "#ff20ff").attr("stroke-width", 1.5);
tmaxBlock(pf, fTmaxLine, fTmaxX, fTmaxZero);
header(pf, "f", "1.8", 1073, 1109);
xTitle(pf); yTitleT(pf);
tLabel(pf, 797, 1183, "max", "Δρ", "#ff1010");
tLabel(pf, 800, 1240, "kink", "ρ", "#ff00ff");
tLabel(pf, 1157, 1219, "max", "Δρ", "#8c8c8c");
rich(pf.over, 796, 1306, [["T", "i"], ["M", "_i"]], {size: 20, color: "#7a0000"});
rich(pf.over, 829, 1299, [["CPM / WMO"]], {size: 24, color: "#ff10ff"});
rich(pf.over, 820, 1362, [["MO"]], {size: 24, color: "#7a0000"});
rich(pf.over, 974, 1341, [["(max ", "i"], ["ρ", "i"], [")", "i"]], {size: 15, color: "#ff1010"});
rich(pf.over, 1072, 1345, [["H", "i"], ["*", "^s"], ["m", "_i"]], {size: 19, color: "#ff1010"});
rich(pf.over, 1101, 1377, [["(kink ", "i"], ["ρ", "i"], [")", "i"]], {size: 15, color: "#ff1010"});
rich(pf.over, 797, 1435, [["H", "i"], ["r,1", "_i"]], {size: 19, color: "#7a0000"});
rich(pf.over, 845, 1435, [["H", "i"], ["r,2", "_i"]], {size: 19, color: "#7a0000"});
rich(pf.over, 910, 1435, [["H", "i"], ["r,3", "_i"]], {size: 19, color: "#7a0000"});
rich(pf.over, 990, 1430, [["H", "i"], ["c", "_i"]], {size: 19, color: "#7a0000"});
rich(pf.over, 1260, 1291, [["PPM"]], {size: 24, color: "#8c8c8c"});
</script>
</body></html>
